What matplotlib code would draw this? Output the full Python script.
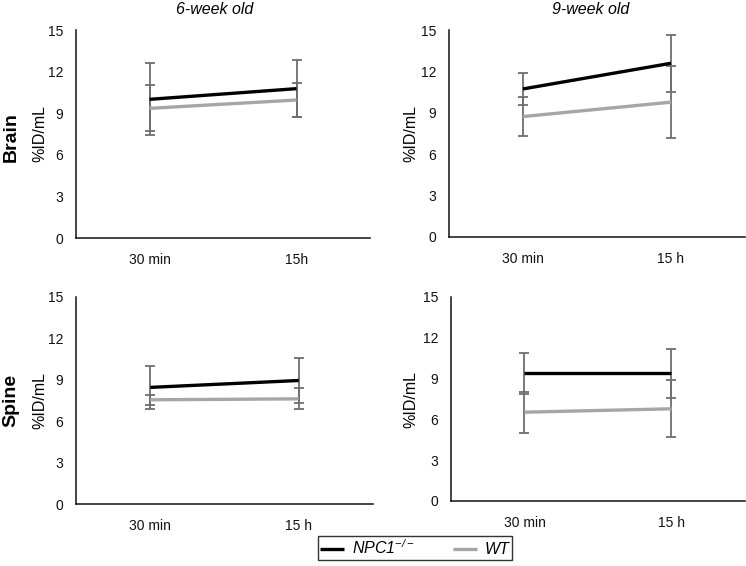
import matplotlib
matplotlib.use("Agg")
import matplotlib.pyplot as plt

plt.rcParams['font.family'] = ['Liberation Sans', 'DejaVu Sans']
plt.rcParams['mathtext.fontset'] = 'custom'
plt.rcParams['mathtext.rm'] = 'Liberation Sans:italic'
plt.rcParams['mathtext.it'] = 'Liberation Sans:italic'

timepoints = ["30 min", "15 h"]
timepoints_tl = ["30 min", "15h"]
ages = ["6-week old", "9-week old"]
tissues = ["Brain", "Spine"]

# means and errors [tissue][age]
npc1_brain_6 = [10.0, 10.77]
npc1_brain_6_err = [2.6, 2.05]
wt_brain_6 = [9.35, 9.95]
wt_brain_6_err = [1.65, 1.25]

npc1_brain_9 = [10.73, 12.59]
npc1_brain_9_err = [1.14, 2.07]
wt_brain_9 = [8.73, 9.77]
wt_brain_9_err = [1.44, 2.6]

npc1_spine_6 = [8.45, 8.95]
npc1_spine_6_err = [1.57, 1.62]
wt_spine_6 = [7.55, 7.62]
wt_spine_6_err = [0.37, 0.75]

npc1_spine_9 = [9.38, 9.38]
npc1_spine_9_err = [1.5, 1.8]
wt_spine_9 = [6.53, 6.78]
wt_spine_9_err = [1.5, 2.1]

yticks = [0, 3, 6, 9, 12, 15]

W, H = 746, 566
fig = plt.figure(figsize=(W/100, H/100), dpi=100)

def add_ax(l, r, t, b):
    return fig.add_axes([l/W, 1 - b/H, (r-l)/W, (b-t)/H])

axes = [
    [add_ax(76, 370, 30, 238), add_ax(449, 745, 30, 237)],
    [add_ax(76, 373, 297, 504), add_ax(451, 745, 297, 501)],
]
ylabel_x = [[40, 411], [40, 411]]

data = [
    [(npc1_brain_6, npc1_brain_6_err, wt_brain_6, wt_brain_6_err, timepoints_tl),
     (npc1_brain_9, npc1_brain_9_err, wt_brain_9, wt_brain_9_err, timepoints)],
    [(npc1_spine_6, npc1_spine_6_err, wt_spine_6, wt_spine_6_err, timepoints),
     (npc1_spine_9, npc1_spine_9_err, wt_spine_9, wt_spine_9_err, timepoints)],
]

err_color = '#6e6e6e'
npc_color = '#000000'
wt_color = '#a6a6a6'

for i in range(2):
    for j in range(2):
        ax = axes[i][j]
        npc, npce, wt, wte, labels = data[i][j]
        x = list(range(len(labels)))
        ax.errorbar(x, npc, yerr=npce, fmt='none', ecolor=err_color,
                    elinewidth=1.3, capsize=3.5, capthick=1.3, zorder=2)
        ax.errorbar(x, wt, yerr=wte, fmt='none', ecolor=err_color,
                    elinewidth=1.3, capsize=3.5, capthick=1.3, zorder=2)
        l1, = ax.plot(x, wt, color=wt_color, lw=2.4, zorder=3,
                      solid_capstyle='butt')
        l2, = ax.plot(x, npc, color=npc_color, lw=2.4, zorder=4,
                      solid_capstyle='butt')
        ax.set_xlim(-0.5, 1.5)
        ax.set_ylim(0, 15)
        ax.set_yticks(yticks)
        ax.set_xticks(x)
        ax.set_xticklabels(labels)
        ax.tick_params(axis='both', length=0, labelsize=10, colors='#111111')
        ax.tick_params(axis='y', pad=9)
        ax.tick_params(axis='x', pad=11)
        for s in ['top', 'right']:
            ax.spines[s].set_visible(False)
        for s in ['left', 'bottom']:
            ax.spines[s].set_linewidth(1.1)
            ax.spines[s].set_color('#111111')
        ax.set_ylabel('%ID/mL', fontsize=11.5)
        pos = ax.get_position()
        lx = (ylabel_x[i][j] / W - pos.x0) / pos.width
        ax.yaxis.set_label_coords(lx, 0.5)
        ax.yaxis.label.set_va('center')
        ax.patch.set_visible(False)

fig.text(215/W, 1 - 9/H, ages[0], ha='center', va='center',
         fontsize=11.5, style='italic')
fig.text(591/W, 1 - 9/H, ages[1], ha='center', va='center',
         fontsize=11.5, style='italic')
fig.text(11/W, 1 - 137/H, tissues[0], ha='center', va='center',
         fontsize=14, fontweight='bold', rotation=90)
fig.text(11/W, 1 - 400/H, tissues[1], ha='center', va='center',
         fontsize=14, fontweight='bold', rotation=90)

leg = fig.legend([l2, l1], [r'$NPC1^{-/-}$', 'WT'],
                 loc='center', bbox_to_anchor=(415/W, 1 - 548/H),
                 ncol=2, frameon=True, fancybox=False, fontsize=11.5,
                 handlelength=1.5, columnspacing=2.4, borderpad=0.15,
                 handletextpad=0.5, borderaxespad=0)
leg.get_frame().set_edgecolor('black')
leg.get_frame().set_linewidth(1.0)
for t in leg.get_texts():
    t.set_fontstyle('italic')

fig.savefig('out.png', dpi=100)
